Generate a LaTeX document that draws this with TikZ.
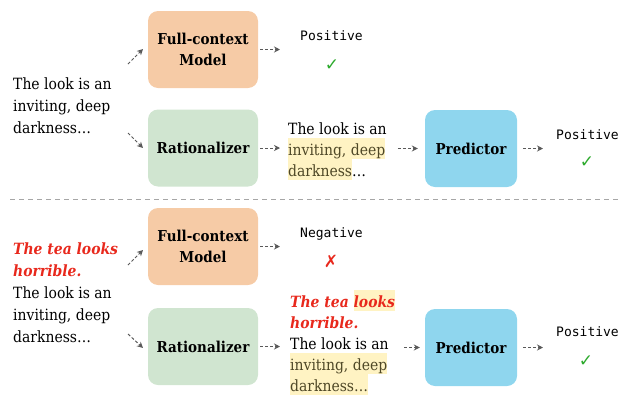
\documentclass[tikz,border=0pt]{standalone}
\usepackage{fontspec}
\setmainfont{DejaVu Serif}[FakeStretch=0.9]
\newfontfamily\monof{DejaVu Sans Mono}
\newfontfamily\symf{DejaVu Sans}
\usetikzlibrary{arrows.meta}
\definecolor{fcol}{HTML}{F6CBA6}
\definecolor{rcol}{HTML}{D0E5D0}
\definecolor{pcol}{HTML}{8FD6EE}
\definecolor{hlc}{HTML}{FFF3C3}
\definecolor{redt}{HTML}{E8281C}
\definecolor{okg}{HTML}{2DAA2D}
\definecolor{hlt}{HTML}{4E4726}
\newcommand{\hlx}[1]{{\setlength{\fboxsep}{0pt}\colorbox{hlc}{\rule[-3.5pt]{0pt}{21pt}#1}}}
\newcommand{\rd}[1]{{\color{redt}\bfseries\itshape #1}}
\tikzset{
  box/.style={rounded corners=10pt, minimum width=110pt, minimum height=77pt, align=center,
    font=\bfseries\fontsize{15}{21}\selectfont, inner sep=0pt},
  arr/.style={draw=black!65, line width=1pt, dash pattern=on 3pt off 2pt,
    -{Stealth[length=6pt,width=6pt]}},
  txt/.style={font=\fontsize{15.5}{22}\selectfont, align=left, inner sep=0pt, anchor=north west},
  mtxt/.style={font=\fontsize{15.5}{21}\selectfont, align=left, inner sep=0pt, anchor=north west},
  mono/.style={font=\monof\fontsize{13}{15}\selectfont, inner sep=0pt},
  okc/.style={font=\symf\fontsize{17}{17}\selectfont, text=okg, inner sep=0pt},
  badc/.style={font=\symf\fontsize{17}{17}\selectfont, text=redt, inner sep=0pt}
}
\begin{document}
\begin{tikzpicture}[x=1pt,y=-1pt]
\useasboundingbox (0,0) rectangle (619,394);
% ---------- top half ----------
\node[box, fill=fcol] (fc1) at (203,49.5) {Full-context\\Model};
\node[box, fill=rcol] (ra1) at (203,148) {Rationalizer};
\node[box, fill=pcol, minimum width=92pt] (pr1) at (471,148.5) {Predictor};
\node[txt] (in1) at (13,77.2) {The look is an\\inviting, deep\\darkness…};
\node[mtxt] (md1) at (288,122.2) {The look is an\\\hlx{\color{hlt}inviting, deep}\\\hlx{\color{hlt}darkness}…};
\node[mono] (o1) at (331.5,36) {Positive};
\node[okc] (k1) at (332,65) {✓};
\node[mono] (o2) at (587.5,134.5) {Positive};
\node[okc] (k2) at (587,162) {✓};
\coordinate (s1) at (128,64);  \coordinate (e1) at (143,49);
\coordinate (s2) at (128,133); \coordinate (e2) at (143,148);
\draw[arr] (s1) -- (e1);
\draw[arr] (s2) -- (e2);
\draw[arr, shorten <=2pt, shorten >=20pt] (fc1.east) -- (fc1.east -| o1.west);
\draw[arr, shorten <=2pt, shorten >=8pt] (ra1.east) -- (ra1.east -| md1.west);
\draw[arr, shorten <=11pt, shorten >=7pt] (pr1.west -| md1.east) -- (pr1.west);
\draw[arr, shorten <=6pt, shorten >=13pt] (pr1.east) -- (pr1.east -| o2.west);
% ---------- divider ----------
\coordinate (dl) at (10,199); \coordinate (dr) at (619,199);
\draw[black!35, line width=1pt, dash pattern=on 5pt off 4pt] (dl) -- (dr);
% ---------- bottom half ----------
\node[box, fill=fcol] (fc2) at (203,246.5) {Full-context\\Model};
\node[box, fill=rcol] (ra2) at (203,346.5) {Rationalizer};
\node[box, fill=pcol, minimum width=92pt] (pr2) at (471,347.5) {Predictor};
\node[txt] (in2) at (13,242.2) {\rd{The tea looks}\\\rd{horrible.}\\The look is an\\inviting, deep\\darkness…};
\node[mtxt] (md2) at (290,289.5) {\rd{The tea \hlx{looks}}\\\rd{horrible.}\\The look is an\\\hlx{\color{hlt}inviting, deep}\\\hlx{\color{hlt}darkness…}};
\node[mono] (o3) at (331.5,234) {Negative};
\node[badc] (k3) at (331,261) {✗};
\node[mono] (o4) at (587.5,332) {Positive};
\node[okc] (k4) at (586,361) {✓};
\coordinate (s3) at (128,265); \coordinate (e3) at (143,250);
\coordinate (s4) at (128,334); \coordinate (e4) at (143,348);
\draw[arr] (s3) -- (e3);
\draw[arr] (s4) -- (e4);
\draw[arr, shorten <=2pt, shorten >=20pt] (fc2.east) -- (fc2.east -| o3.west);
\draw[arr, shorten <=2pt, shorten >=10pt] (ra2.east) -- (ra2.east -| md2.west);
\draw[arr, shorten <=9pt, shorten >=5pt] (pr2.west -| md2.east) -- (pr2.west);
\draw[arr, shorten <=6pt, shorten >=13pt] (pr2.east) -- (pr2.east -| o4.west);
\end{tikzpicture}
\end{document}
